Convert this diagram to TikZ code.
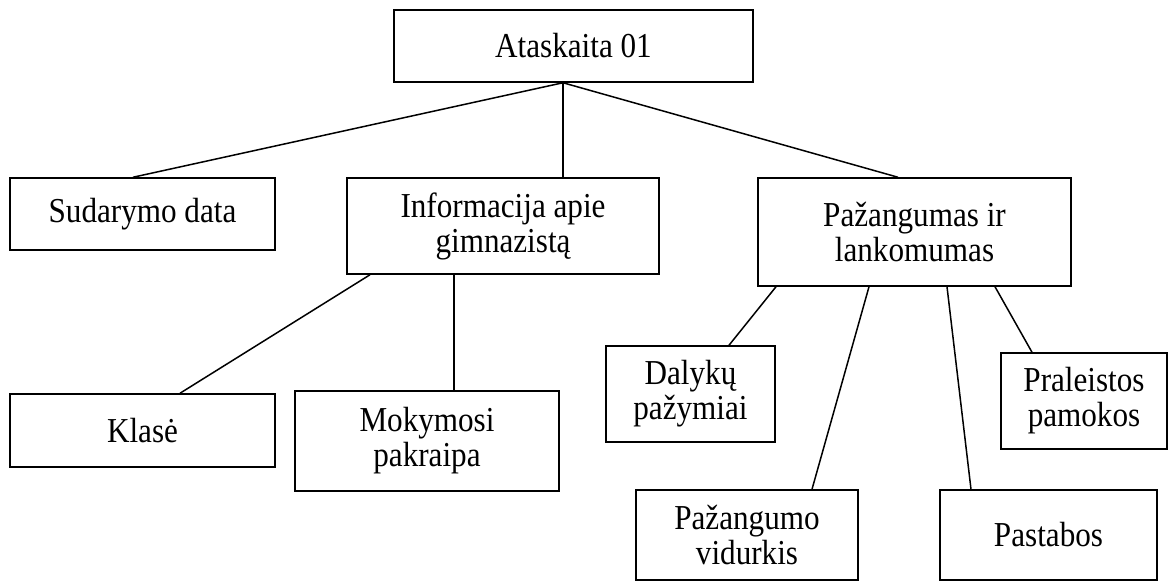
\documentclass[tikz,border=0pt]{standalone}
\usepackage{fontspec}
\setmainfont{Liberation Serif}[FakeStretch=0.89]
\begin{document}
\begin{tikzpicture}[x=1pt,y=-1pt,
  box/.style={draw, line width=1.5pt, inner sep=0pt, align=center,
    font=\fontsize{35}{35}\selectfont},
  link/.style={line width=1.5pt}]
\useasboundingbox (0,0) rectangle (1170,582);

% boxes
\node[box, minimum width=359pt, minimum height=72pt]  (top)   at (573.5,46)  {Ataskaita 01};
\node[box, minimum width=265pt, minimum height=72pt]  (sud)   at (142.5,214) {Sudarymo data};
\node[box, minimum width=312pt, minimum height=96pt]  (info)  at (503,226)   {Informacija apie\\gimnazistą};
\node[box, minimum width=313pt, minimum height=108pt] (paz)   at (914.5,232) {Pažangumas ir\\lankomumas};
\node[box, minimum width=265pt, minimum height=73pt]  (klase) at (142.5,430.5) {Klasė};
\node[box, minimum width=264pt, minimum height=100pt] (mok)   at (427,441)   {Mokymosi\\pakraipa};
\node[box, minimum width=169pt, minimum height=96pt]  (dal)   at (690.5,394) {Dalykų\\pažymiai};
\node[box, minimum width=166pt, minimum height=96pt]  (pral)  at (1084,401)  {Praleistos\\pamokos};
\node[box, minimum width=222pt, minimum height=90pt]  (vid)   at (747,535)   {Pažangumo\\vidurkis};
\node[box, minimum width=217pt, minimum height=90pt]  (past)  at (1048.5,535) {Pastabos};

% connectors
\draw[link] ([xshift=-10.5pt]top.south) -- ([xshift=-9.5pt]sud.north);
\draw[link] ([xshift=-10.5pt]top.south) -- ([xshift=60pt]info.north);
\draw[link] ([xshift=-10.5pt]top.south) -- ([xshift=-16.5pt]paz.north);
\draw[link] ([xshift=-133pt]info.south) -- ([xshift=37.5pt]klase.north);
\draw[link] ([xshift=-49pt]info.south) -- ([xshift=27pt]mok.north);
\draw[link] ([xshift=-138.5pt]paz.south) -- ([xshift=38.5pt]dal.north);
\draw[link] ([xshift=-45.5pt]paz.south) -- ([xshift=65pt]vid.north);
\draw[link] ([xshift=32.5pt]paz.south) -- ([xshift=-77.5pt]past.north);
\draw[link] ([xshift=80.5pt]paz.south) -- ([xshift=-52pt]pral.north);
\end{tikzpicture}
\end{document}
